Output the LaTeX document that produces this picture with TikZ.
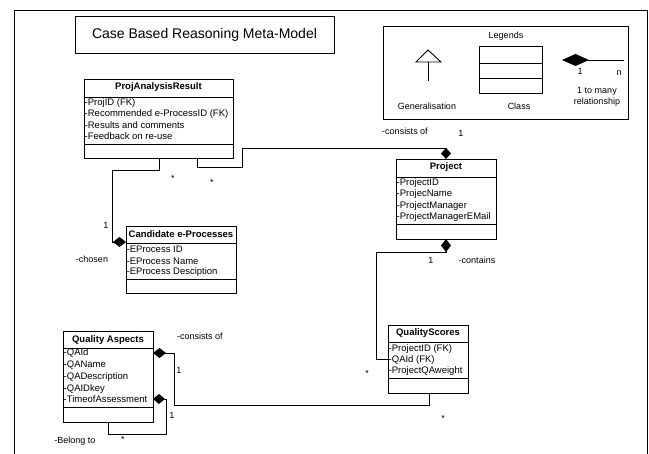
\documentclass[tikz,border=0pt]{standalone}
\usepackage{fontspec}
\setmainfont{Liberation Sans}
\usetikzlibrary{arrows.meta}
\tikzset{
  ln/.style={line width=0.9pt, black},
  cls/.style={draw, line width=0.9pt, anchor=north west, inner sep=0pt, outer sep=0pt},
  attr/.style={anchor=west, inner sep=0pt, font=\fontsize{9.5}{11}\selectfont},
  ctitle/.style={inner sep=0pt, font=\fontsize{9.5}{11}\selectfont\bfseries},
  lbl/.style={inner sep=0pt, font=\fontsize{9}{11}\selectfont},
  dia/.style={-{Diamond[length=#1,width=10pt]}},
}
\begin{document}
\begin{tikzpicture}[x=1pt,y=-1pt]
\useasboundingbox (0,0) rectangle (649,454);
% outer frame
\draw[ln] (14,454) -- (14,10) -- (647,10) -- (647,454);
% title
\node[cls, minimum width=259, minimum height=37] (tbox) at (75,16) {};
\node[inner sep=0pt, font=\fontsize{14}{16}\selectfont] (ttext) at (tbox.center) {Case Based Reasoning Meta-Model};
% legend
\node[cls, minimum width=245, minimum height=93] (leg) at (383,26) {};
\node[lbl] (legt) at (506,36) {Legends};
\node[cls, minimum width=63, minimum height=47] (legc) at (479,46) {};
\draw[ln] (legc.west |- 0,63) -- (legc.east |- 0,63);
\draw[ln] (legc.west |- 0,78) -- (legc.east |- 0,78);
\node[lbl] (legcl) at (519,106) {Class};
\coordinate (gtop) at (428,50);
\draw[ln] (416,62) -- (gtop) -- (441,62) -- cycle;
\draw[ln] (428,62) -- (428,81);
\node[lbl] (leggen) at (427,106) {Generalisation};
\coordinate (lr) at (624,60);
\coordinate (ll) at (562,60);
\draw[ln, -{Diamond[length=27pt,width=12pt]}] (lr) -- (ll);
\node[lbl] (leg1) at (580,71) {1};
\node[lbl] (legn) at (619,73) {n};
\node[lbl, align=center] (legm) at (597,97) {1 to many\\relationship};

% ProjAnalysisResult
\node[cls, minimum width=149, minimum height=79] (par) at (84,79) {};
\draw[ln] (par.west |- 0,97) -- (par.east |- 0,97);
\draw[ln] (par.west |- 0,144) -- (par.east |- 0,144);
\node[ctitle] (part) at (158.5,87.5) {ProjAnalysisResult};
\node[attr] (par1) at (84.5,103) {-ProjID (FK)};
\node[attr] (par2) at (84.5,114) {-Recommended e-ProcessID (FK)};
\node[attr] (par3) at (84.5,125) {-Results and comments};
\node[attr] (par4) at (84.5,136.5) {-Feedback on re-use};

% Candidate
\node[cls, minimum width=110, minimum height=67] (cand) at (126,226) {};
\draw[ln] (cand.west |- 0,243) -- (cand.east |- 0,243);
\draw[ln] (cand.west |- 0,279) -- (cand.east |- 0,279);
\node[ctitle] (candt) at (181,234.5) {Candidate e-Processes};
\node[attr] (cand1) at (126.5,249) {-EProcess ID};
\node[attr] (cand2) at (126.5,261) {-EProcess Name};
\node[attr] (cand3) at (126.5,272) {-EProcess Desciption};

% Project
\node[cls, minimum width=100, minimum height=80] (proj) at (396,159) {};
\draw[ln] (proj.west |- 0,177) -- (proj.east |- 0,177);
\draw[ln] (proj.west |- 0,224) -- (proj.east |- 0,224);
\node[ctitle] (projt) at (446,167.5) {Project};
\node[attr] (proj1) at (396.5,183) {-ProjectID};
\node[attr] (proj2) at (396.5,194.5) {-ProjecName};
\node[attr] (proj3) at (396.5,206) {-ProjectManager};
\node[attr] (proj4) at (396.5,217) {-ProjectManagerEMail};

% QualityScores
\node[cls, minimum width=80, minimum height=68] (qs) at (388,325) {};
\draw[ln] (qs.west |- 0,342) -- (qs.east |- 0,342);
\draw[ln] (qs.west |- 0,378) -- (qs.east |- 0,378);
\node[ctitle] (qst) at (428,333.5) {QualityScores};
\node[attr] (qs1) at (388.5,349) {-ProjectID (FK)};
\node[attr] (qs2) at (388.5,360) {-QAId (FK)};
\node[attr] (qs3) at (388.5,371) {-ProjectQAweight};

% Quality Aspects
\node[cls, minimum width=90, minimum height=91] (qa) at (63,331) {};
\draw[ln] (qa.west |- 0,348) -- (qa.east |- 0,348);
\draw[ln] (qa.west |- 0,407) -- (qa.east |- 0,407);
\node[ctitle] (qat) at (108,340) {Quality Aspects};
\node[attr] (qa1) at (63.5,353) {-QAId};
\node[attr] (qa2) at (63.5,365) {-QAName};
\node[attr] (qa3) at (63.5,377) {-QADescription};
\node[attr] (qa4) at (63.5,389) {-QAIDkey};
\node[attr] (qa5) at (63.5,399.5) {-TimeofAssessment};

% connectors
\draw[ln, dia=13pt] (par.south -| 159,0) -- (159,170) -- (112,170) -- (112,242) -- (cand.west |- 0,242);
\node[lbl] (c1a) at (106,225) {1};
\node[lbl] (c1b) at (92,259) {-chosen};
\node[lbl] (c1c) at (173,178) {*};

\draw[ln, dia=11pt] (par.south -| 197,0) -- (197,167) -- (242,167) -- (242,148) -- (446,148) -- (proj.north);
\node[lbl] (c2a) at (212,182) {*};
\node[lbl] (c2b) at (405,131) {-consists of};
\node[lbl] (c2c) at (461,133) {1};

\draw[ln, dia=13pt] (qs.west |- 0,359) -- (376,359) -- (376,252) -- (446,252) -- (proj.south);
\node[lbl] (c3a) at (431,260) {1};
\node[lbl] (c3b) at (477,260) {-contains};
\node[lbl] (c3c) at (367,373) {*};

\draw[ln, dia=13pt] (qs.south -| 429,0) -- (429,405) -- (174,405) -- (174,353) -- (qa.east |- 0,353);
\node[lbl] (c4a) at (179,370) {1};
\node[lbl] (c4b) at (200,336) {-consists of};
\node[lbl] (c4c) at (443,418) {*};

\draw[ln, dia=12pt] (qa.south -| 108,0) -- (108,434) -- (166,434) -- (166,399) -- (qa.east |- 0,399);
\node[lbl] (c5a) at (172,415) {1};
\node[lbl] (c5b) at (123,439) {*};
\node[lbl] (c5c) at (75,441) {-Belong to};
\end{tikzpicture}
\end{document}
